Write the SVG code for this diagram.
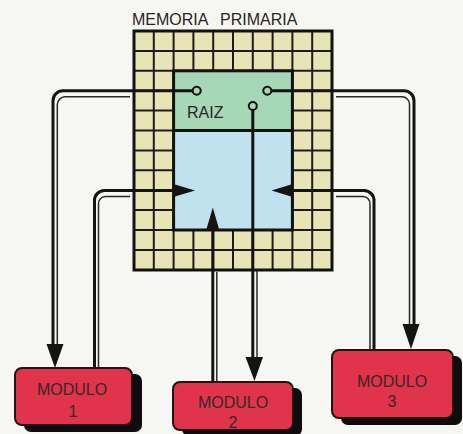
<svg xmlns="http://www.w3.org/2000/svg" width="463" height="434" viewBox="0 0 463 434">
<style>
.lbl{font-family:"Liberation Sans",Arial,sans-serif;fill:#2a2424}
.grid{stroke:#1e1c1a;stroke-width:2;fill:none}
.thick{stroke:#151312;stroke-width:3;fill:none}
.thin{stroke:#2a2826;stroke-width:1.5;fill:none}
.arr{fill:#161413}
.mod{fill:#e0344c;stroke:#231414;stroke-width:2}
.shadow{fill:#0e0c0c}
.mtxt{font-family:"Liberation Sans",Arial,sans-serif;font-size:16px;fill:#3a2626;text-anchor:middle}
</style>
<rect width="463" height="434" fill="#f6f6f3"/>
<text class="lbl" x="132" y="24.5" font-size="16" word-spacing="8">MEMORIA PRIMARIA</text>
<g id="memoria">
<rect x="134" y="31" width="198" height="239" fill="#e8e4b6"/>
<path class="grid" d="M153.8 31V270M173.6 31V270M193.4 31V270M213.2 31V270M233 31V270M252.8 31V270M272.6 31V270M292.4 31V270M312.2 31V270M134 50.9H332M134 70.8H332M134 90.7H332M134 110.6H332M134 130.5H332M134 150.4H332M134 170.3H332M134 190.2H332M134 210.1H332M134 230H332M134 249.9H332"/>
<rect x="134" y="31" width="198" height="239" fill="none" stroke="#141210" stroke-width="3"/>
</g>
<g id="raiz">
<rect x="173.6" y="70.8" width="118.8" height="59.7" fill="#a6d7b6"/>
<rect x="173.6" y="130.5" width="118.8" height="99.5" fill="#c0e1ee"/>
<rect x="173.6" y="70.8" width="118.8" height="159.2" fill="none" stroke="#141210" stroke-width="3"/>
<line x1="173.6" y1="130.5" x2="292.4" y2="130.5" stroke="#141210" stroke-width="3"/>
<text class="lbl" x="187" y="118" font-size="16">RAIZ</text>
</g>
<g id="connectors">
<path class="thick" d="M192.7 90.7H63A10 10 0 0 0 53 100.7V350"/>
<path class="thin" d="M130 96.8H65A8 8 0 0 0 57.3 104.5V350"/>
<path class="arr" d="M46.5 344L63.5 344L55 368Z"/>
<path class="thick" d="M94.5 368V201A10 10 0 0 1 104.5 190.5H177"/>
<path class="thin" d="M98.5 368V204.5A7 7 0 0 1 105.5 196.5H130"/>
<path class="arr" d="M175 184.5L195 190.5L175 196.5Z"/>
<path class="thick" d="M271.3 90.7H404A10 10 0 0 1 414 100.7V330"/>
<path class="thin" d="M336 96.8H402A7.5 7.5 0 0 1 409.5 104.3V330"/>
<path class="arr" d="M402.5 324L419.5 324L411 349Z"/>
<path class="thick" d="M374 350V201A10 10 0 0 0 364 190.5H290"/>
<path class="thin" d="M370 350V204.5A7 7 0 0 0 363 196.5H336"/>
<path class="arr" d="M291 184.5L271.5 190.5L291 196.5Z"/>
<path class="thick" d="M252.8 110V362"/>
<path class="thin" d="M257 271V362"/>
<path class="arr" d="M245.5 357L263 357L254.5 381Z"/>
<path class="thick" d="M212.8 382V225"/>
<path class="thin" d="M216.8 382V272"/>
<path class="arr" d="M206.5 229L219 229L212.8 207.5Z"/>
<circle cx="196.7" cy="90.7" r="4" fill="#a6d7b6" stroke="#141210" stroke-width="2"/>
<circle cx="267.3" cy="90.7" r="4" fill="#a6d7b6" stroke="#141210" stroke-width="2"/>
<circle cx="252.8" cy="106" r="4" fill="#a6d7b6" stroke="#141210" stroke-width="2"/>
</g>
<g id="modulo1">
<rect class="shadow" x="24" y="374" width="118" height="58" rx="7"/>
<rect class="mod" x="15" y="368" width="117" height="57" rx="7"/>
<text class="mtxt" x="72" y="395">MODULO</text>
<text class="mtxt" x="73" y="417">1</text>
</g>
<g id="modulo2">
<rect class="shadow" x="182" y="388" width="120" height="48" rx="7"/>
<rect class="mod" x="173" y="382" width="120" height="48" rx="7"/>
<text class="mtxt" x="233" y="408">MODULO</text>
<text class="mtxt" x="233" y="428">2</text>
</g>
<g id="modulo3">
<rect class="shadow" x="341" y="356" width="121" height="69" rx="7"/>
<rect class="mod" x="332" y="350" width="121" height="68" rx="7"/>
<text class="mtxt" x="392" y="387">MODULO</text>
<text class="mtxt" x="392" y="407">3</text>
</g>
</svg>
